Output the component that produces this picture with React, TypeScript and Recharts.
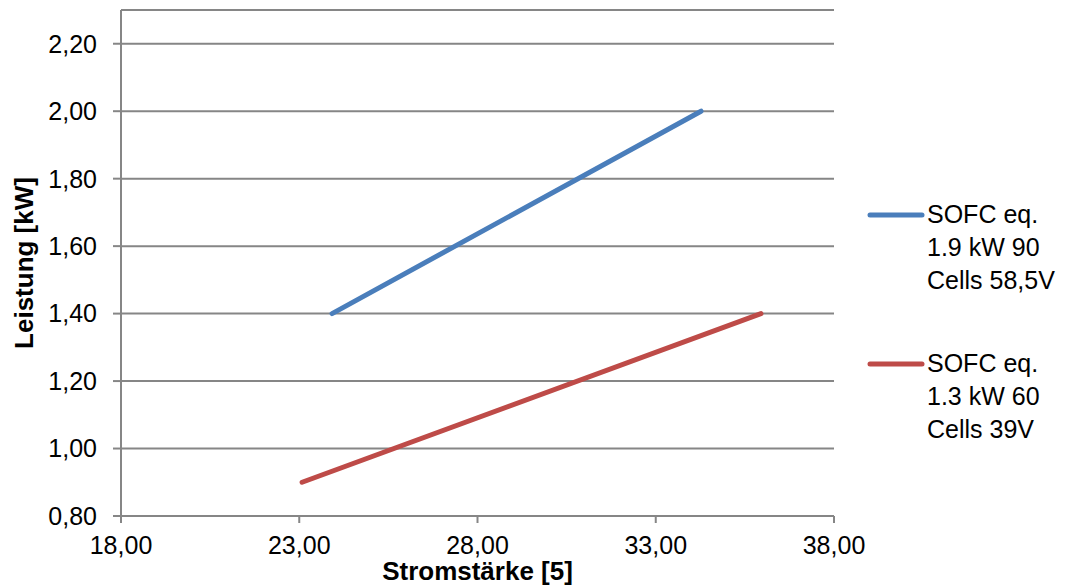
import { LineChart, Line, XAxis, YAxis, CartesianGrid } from "recharts";

const blueSeries = [
  { x: 23.92, y: 1.4 },
  { x: 34.27, y: 2.0 },
];

const redSeries = [
  { x: 23.08, y: 0.9 },
  { x: 35.95, y: 1.4 },
];

const xTicks = [18, 23, 28, 33, 38];
const yTicks = [0.8, 1.0, 1.2, 1.4, 1.6, 1.8, 2.0, 2.2];

const seriesInfo = [
  { key: "blue", color: "#4A7EBB", lines: ["SOFC eq.", "1.9 kW 90", "Cells 58,5V"] },
  { key: "red", color: "#BE4B48", lines: ["SOFC eq.", "1.3 kW 60", "Cells 39V"] },
];

const FONT = "'Liberation Sans', Arial, sans-serif";
const GRID = "#868686";

const fmt = (v: number) => v.toFixed(2).replace(".", ",");

// Legende rechts, Linie vor der ersten Zeile
function SideLegend() {
  return (
    <div
      style={{
        position: "absolute",
        left: 865,
        top: 198,
        fontFamily: FONT,
        fontSize: 25,
        color: "#000",
        lineHeight: "33px",
      }}
    >
      {seriesInfo.map((s, i) => (
        <div key={s.key} style={{ display: "flex", alignItems: "flex-start", marginTop: i === 0 ? 0 : 50 }}>
          <svg width={62} height={33} style={{ flex: "none" }}>
            <line x1={5} y1={17} x2={57} y2={17} stroke={s.color} strokeWidth={5} strokeLinecap="round" />
          </svg>
          <div>
            {s.lines.map((l) => (
              <div key={l}>{l}</div>
            ))}
          </div>
        </div>
      ))}
    </div>
  );
}

export default function App() {
  return (
    <div style={{ position: "absolute", left: 0, top: 0, width: 1069, height: 587, background: "#fff" }}>
      <LineChart width={1069} height={587} margin={{ top: 10, right: 235, left: 0, bottom: 0 }}>
        <CartesianGrid horizontal vertical={false} stroke={GRID} strokeWidth={2} />
        <XAxis
          type="number"
          dataKey="x"
          domain={[18, 38]}
          ticks={xTicks}
          tickFormatter={fmt}
          allowDataOverflow
          height={71}
          tickSize={7}
          tickMargin={13}
          axisLine={{ stroke: GRID, strokeWidth: 2 }}
          tickLine={{ stroke: GRID, strokeWidth: 2 }}
          tick={{ fill: "#000", fontSize: 25, fontFamily: FONT }}
          label={({ viewBox }: any) => (
            <text
              x={viewBox.x + viewBox.width / 2}
              y={viewBox.y + 64}
              textAnchor="middle"
              fontFamily={FONT}
              fontWeight="bold"
              fontSize={26}
              fill="#000"
            >
              Stromstärke [5]
            </text>
          )}
        />
        <YAxis
          type="number"
          dataKey="y"
          domain={[0.8, 2.3]}
          ticks={yTicks}
          tickFormatter={fmt}
          allowDataOverflow
          width={121}
          tickSize={8}
          tickMargin={16}
          axisLine={{ stroke: GRID, strokeWidth: 2 }}
          tickLine={{ stroke: GRID, strokeWidth: 2 }}
          tick={{ fill: "#000", fontSize: 25, fontFamily: FONT }}
          label={({ viewBox }: any) => {
            const cy = viewBox.y + viewBox.height / 2;
            return (
              <text
                x={24}
                y={cy}
                transform={`rotate(-90, 24, ${cy})`}
                textAnchor="middle"
                dominantBaseline="central"
                fontFamily={FONT}
                fontWeight="bold"
                fontSize={26}
                fill="#000"
              >
                Leistung [kW]
              </text>
            );
          }}
        />
        <Line
          data={blueSeries}
          dataKey="y"
          stroke="#4A7EBB"
          strokeWidth={5}
          strokeLinecap="round"
          dot={false}
          isAnimationActive={false}
        />
        <Line
          data={redSeries}
          dataKey="y"
          stroke="#BE4B48"
          strokeWidth={5}
          strokeLinecap="round"
          dot={false}
          isAnimationActive={false}
        />
      </LineChart>
      <SideLegend />
    </div>
  );
}
